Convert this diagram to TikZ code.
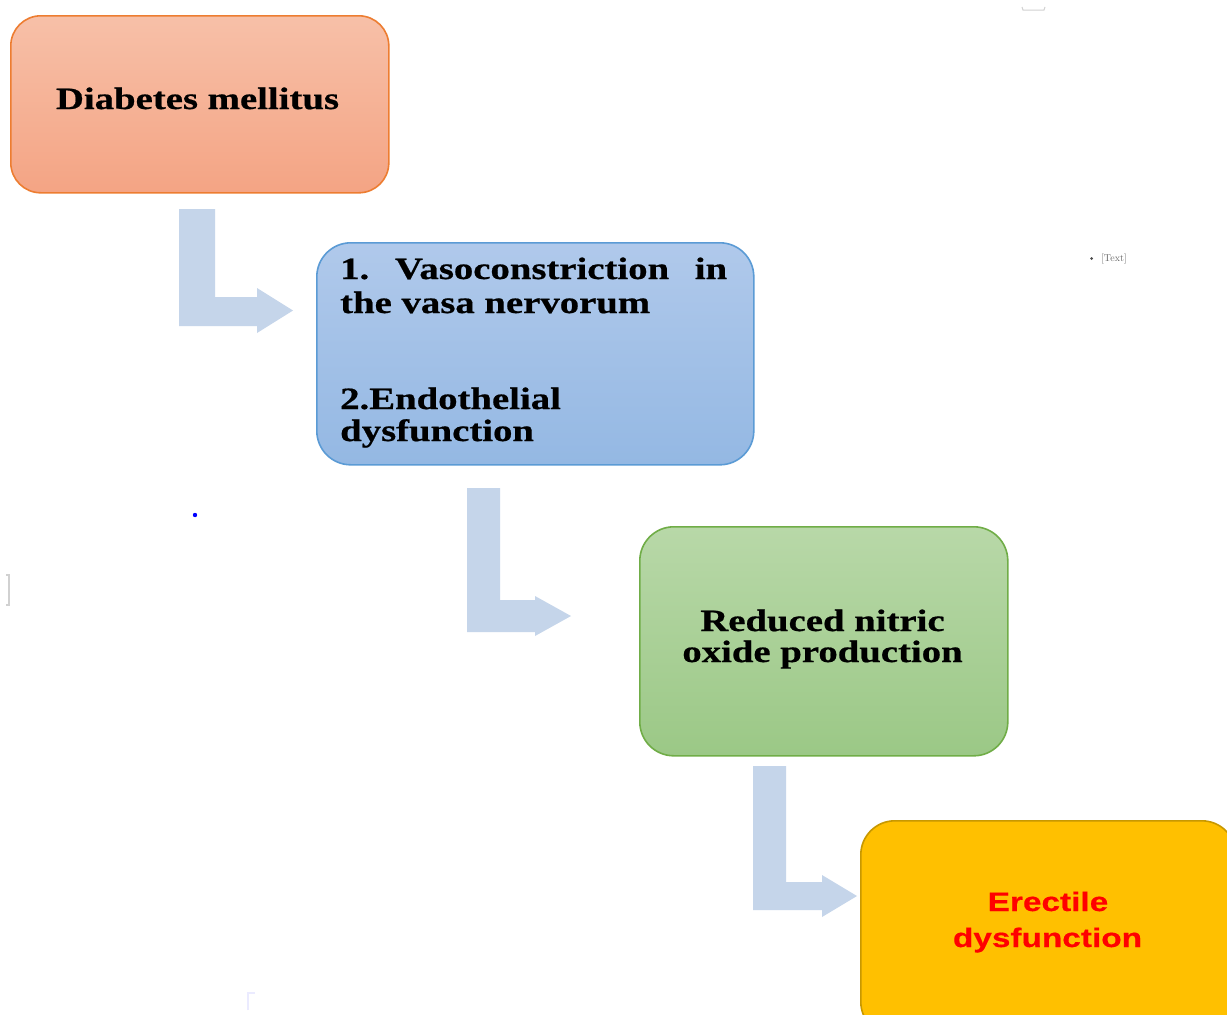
\documentclass[tikz,border=0pt]{standalone}
\usepackage{fontspec}
\newfontfamily\serifb{Liberation Serif}[FakeStretch=1.25,FakeBold=0.6]
\newfontfamily\sansb{Liberation Sans}[FakeStretch=1.25,FakeBold=0.5]
\definecolor{salmonT}{RGB}{247,192,168}
\definecolor{salmonB}{RGB}{244,164,132}
\definecolor{salmonD}{RGB}{237,125,49}
\definecolor{blueT}{RGB}{176,201,235}
\definecolor{blueB}{RGB}{148,184,227}
\definecolor{blueD}{RGB}{91,155,213}
\definecolor{greenT}{RGB}{184,216,168}
\definecolor{greenB}{RGB}{155,200,134}
\definecolor{greenD}{RGB}{112,173,71}
\definecolor{goldF}{RGB}{255,192,0}
\definecolor{goldD}{RGB}{200,152,0}
\definecolor{arrowC}{RGB}{197,213,234}
\definecolor{edred}{RGB}{255,0,0}
\begin{document}
\begin{tikzpicture}[x=1pt,y=-1pt,
  box/.style={rounded corners=30pt,line width=1.6pt,inner sep=0pt,anchor=north west},
  sertext/.style={inner sep=0pt,font=\serifb\bfseries\fontsize{31}{32}\selectfont},
  santext/.style={inner sep=0pt,text=edred,font=\sansb\bfseries\fontsize{26.7}{30}\selectfont},
  bent/.style={fill=arrowC,draw=none}]
\useasboundingbox (0,0) rectangle (1227,1015);
\fill[white] (0,0) rectangle (1227,1015);
\begin{scope}
\clip (0,0) rectangle (1227,1015);
% boxes
\node[box,draw=salmonD,top color=salmonT,bottom color=salmonB,minimum width=378pt,minimum height=177pt] (dm) at (10,15) {};
\node[box,draw=blueD,top color=blueT,bottom color=blueB,minimum width=437pt,minimum height=222pt,rounded corners=34pt] (vc) at (316,242) {};
\node[box,draw=greenD,top color=greenT,bottom color=greenB,minimum width=368pt,minimum height=229pt,rounded corners=34pt] (no) at (639,526) {};
\node[box,draw=goldD,fill=goldF,minimum width=375pt,minimum height=215pt,rounded corners=34pt] (ed) at (860,820) {};
% texts
\node[sertext,anchor=base] (t1) at (197.5,109) {Diabetes mellitus};
\node[sertext,anchor=base west] (t2a) at (340,279) {\hbox to 387pt{1.\hfill Vasoconstriction\hfill in}};
\node[sertext,anchor=base west] (t2b) at (340,313) {the vasa nervorum};
\node[sertext,anchor=base west] (t2c) at (340,409) {2.Endothelial};
\node[sertext,anchor=base west] (t2d) at (340,441) {dysfunction};
\node[sertext,anchor=base] (t3a) at (822.5,631) {Reduced nitric};
\node[sertext,anchor=base] (t3b) at (822.5,662) {oxide production};
\node[santext,anchor=base] (t4a) at (1048,911) {Erectile};
\node[santext,anchor=base] (t4b) at (1047.5,947) {dysfunction};
% bent arrows
\fill[bent] (179,209) -- (215,209) -- (215,297) -- (257,297) -- (257,288)
  -- (293,310.5) -- (257,333) -- (257,326) -- (179,326) -- cycle;
\fill[bent] (467,488) -- (500,488) -- (500,600) -- (535,600) -- (535,596)
  -- (571,616) -- (535,636) -- (535,632) -- (467,632) -- cycle;
\fill[bent] (753,766) -- (786,766) -- (786,882) -- (822,882) -- (822,875)
  -- (857,896) -- (822,917) -- (822,910) -- (753,910) -- cycle;
% stray marks
\fill[black!70] (1091.5,258.5) circle (1.5pt);
\node[inner sep=0pt,anchor=west,text=black!60,font=\fontsize{10}{11}\selectfont] (stray) at (1101,258.5) {[Text]};
\fill[blue] (195,515) circle (2.2pt);
\draw[black!18,line width=1.2pt] (6,575) -- (9,575) -- (9,605) -- (6,605);
\draw[black!18,line width=1pt] (1022,7) -- (1023,10) -- (1044,10) -- (1045,7);
\draw[blue!8,line width=1.5pt] (248,1010) -- (248,993) -- (255,993);
\end{scope}
\end{tikzpicture}
\end{document}
